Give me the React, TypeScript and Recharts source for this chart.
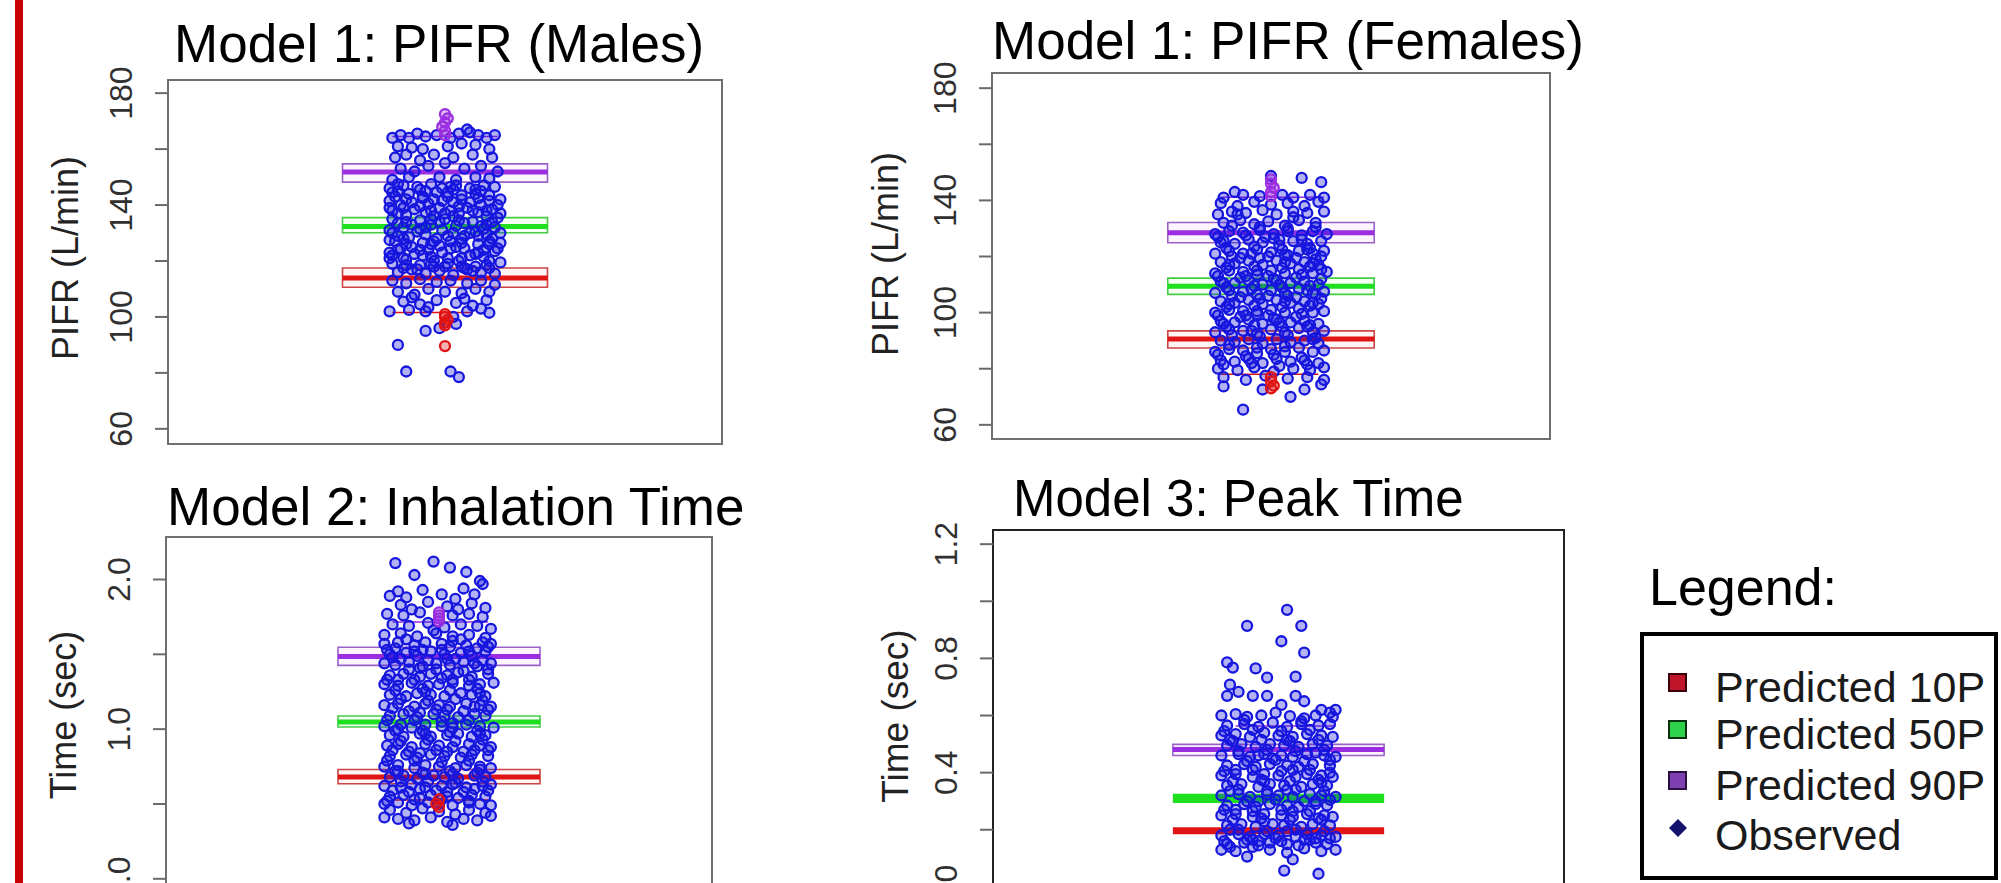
import React from "react";
import { ScatterChart, Scatter, XAxis, YAxis, ReferenceArea, ReferenceLine } from "recharts";

const FONT = '"Liberation Sans", Arial, Helvetica, sans-serif';

// x values are jitter offsets (-100..100 spans the plot box), y values are in axis units

// ---- Model 1: PIFR (Males) ----
const malesTicks = [60, 80, 100, 120, 140, 160, 180];
const malesTickLabels = [60, 100, 140, 180];
const malesP10 = [110.6, 113.9, 117.5];
const malesP50 = [130.1, 132.3, 135.5];
const malesP90 = [148.2, 151.8, 154.7];
const malesGuide10 = [101.6, -19, 10];
const malesGuide90 = [164.5, -19, 19];
const malesPts10: [number, number][] = [[0, 101], [0, 100], [1, 99], [0, 98], [0, 97], [0, 89.6]];
const malesPts90: [number, number][] = [[0, 165], [0, 166.5], [-1, 168], [0, 169.5], [1, 171], [0, 172.5]];
const malesObserved: [number, number][] = [
  [-19, 164], [-16, 165], [-13, 164], [-10, 165.5], [-7, 164.5], [-3, 165], [2, 164], [5, 165.5], [9, 166], [12, 165], [15, 164], [18, 165],
  [-17, 161], [-8, 160], [6, 162], [11, 161.5], [16, 160], [1, 161], [-12, 160.5], [8, 167],
  [-18, 157], [-14, 158], [-9, 156], [-4, 158], [3, 157], [10, 158], [17, 157], [-16, 153], [-11, 152], [-6, 154], [0, 155], [7, 153],
  [13, 154], [19, 152], [-19, 149], [-13, 150], [-2, 150], [4, 149], [11, 150], [16, 149.5],
  [-20, 146], [-15, 147], [-10, 146.5], [-5, 147.5], [-1, 146], [4, 147], [9, 146], [14, 147], [18, 146.5],
  [-18, 143], [-13, 144], [-8, 142.5], [-3, 144.5], [1, 143], [6, 142], [11, 144], [16, 143.5], [20, 142],
  [-20, 139], [-16, 140], [-11, 138.5], [-6, 140.5], [-2, 139], [3, 141], [8, 139], [13, 140], [17, 138.5],
  [-19, 135], [-14, 136.5], [-9, 134.5], [-4, 136], [0, 135], [5, 137], [10, 134], [15, 136], [19, 135.5],
  [-20, 131], [-15, 132], [-10, 130.5], [-5, 133], [-1, 131], [4, 132.5], [9, 130], [14, 131.5], [18, 132],
  [-18, 127], [-13, 128.5], [-8, 126.5], [-3, 128], [2, 127], [7, 129], [12, 126], [17, 128], [20, 126.5],
  [-20, 123], [-16, 124.5], [-11, 122.5], [-6, 124], [-1, 123], [4, 125], [9, 122], [14, 124], [18, 123.5],
  [-19, 119], [-14, 120.5], [-9, 118.5], [-4, 120], [1, 119], [6, 121], [11, 118], [16, 120], [20, 119.5],
  [-17, 116], [-12, 117], [-7, 115.5], [-2, 116.5], [3, 115], [8, 117], [13, 116], [18, 115.5],
  [-17, 145], [-7, 145], [3, 145.5], [13, 145], [-12, 141], [-1, 141.5], [9, 141], [19, 140], [-17, 137], [-7, 137.5], [2, 138],
  [12, 137.5], [-12, 133], [-2, 134], [7, 133.5], [17, 134], [-17, 129], [-7, 129.5], [3, 130], [12, 129], [-12, 125], [-2, 125.5],
  [7, 124.5], [16, 126], [-15, 121], [-5, 121.5], [5, 120], [14, 121.5], [-10, 117], [0, 118], [10, 116.5],
  [-19, 144.5], [-9, 145.5], [1, 144.5], [11, 145.5], [-14, 142], [-4, 142], [6, 143.5], [16, 141.5], [-19, 138], [-9, 139.5], [0, 137],
  [10, 138], [-14, 134], [-5, 135], [5, 134.5], [15, 133], [-19, 130], [-9, 131.5], [1, 129], [11, 130.5], [-14, 126], [-4, 127],
  [6, 126.5], [16, 127], [-19, 122], [-9, 124], [1, 121], [11, 122.5], [-14, 118.5], [-4, 118], [6, 118], [16, 117.5],
  [-19, 113], [-14, 112], [-9, 113.5], [-3, 112.5], [2, 113], [8, 112], [13, 113], [18, 111.5], [-17, 109], [-11, 108], [-6, 110],
  [0, 109], [6, 108.5], [11, 110], [16, 109], [-15, 105.5], [-9, 104.5], [-3, 106], [4, 105], [10, 104], [15, 106], [-12, 107],
  [7, 106.5], [-6, 103.5], [13, 103],
  [-20, 102], [-13, 102.5], [-7, 102], [8, 102], [16, 101.5], [3, 100],
  [-17, 90], [-7, 95], [-14, 80.5], [2, 80.5], [5, 78.5], [4, 97.5], [-2, 96],
];
const malesObservedCore: [number, number][] = [
  [-17, 147.5], [-8, 143], [2, 146.5], [12, 142.5], [-15, 139], [-5, 138], [5, 139.5], [15, 138], [-17, 133.5], [-7, 132], [3, 136],
  [13, 132.5], [-15, 128], [-5, 126], [6, 128], [15, 129.5], [-17, 124], [-8, 122], [2, 124.5], [12, 123], [-15, 117.5], [-5, 119],
  [7, 117.5], [15, 118.5], [-20, 141.5], [20, 137], [-20, 127.5], [20, 130], [-20, 121], [19, 124.5],
];

// ---- Model 1: PIFR (Females) ----
const femalesTicks = [60, 80, 100, 120, 140, 160, 180];
const femalesTickLabels = [60, 100, 140, 180];
const femalesP10 = [87.4, 90.6, 93.5];
const femalesP50 = [106.5, 109.4, 112.3];
const femalesP90 = [124.9, 128.5, 132.1];
const femalesGuide10 = [78, -18, 17];
const femalesGuide90 = [141.1, -18, 19];
const femalesPts10: [number, number][] = [[0, 77], [0, 75.5], [1, 74], [0, 73]];
const femalesPts90: [number, number][] = [[0, 141.5], [0, 143], [1, 144.5], [0, 146], [0, 147.5]];
const femalesObserved: [number, number][] = [
  [0, 148.7], [11, 148], [18, 146.5], [-13, 143],
  [-17, 141], [-10, 142], [-4, 141.5], [4, 142], [8, 141], [14, 142], [19, 141],
  [-18, 139], [-12, 138], [-6, 139.5], [0, 138.5], [6, 139], [12, 138], [17, 139.5],
  [-19, 135], [-14, 136], [-9, 135.5], [-3, 136.5], [2, 135], [8, 136], [13, 135.5], [19, 136],
  [-17, 132], [-11, 133], [-6, 131.5], [-1, 132.5], [5, 131], [10, 133], [16, 132],
  [-20, 128], [-15, 129], [-10, 128.5], [-4, 129.5], [1, 128], [6, 129], [11, 127.5], [15, 129], [20, 128],
  [-18, 125], [-13, 124.5], [-8, 126], [-3, 125], [3, 124], [8, 125.5], [13, 124.5], [18, 125.5],
  [-20, 121], [-15, 122], [-10, 121], [-5, 122.5], [0, 121.5], [5, 120.5], [10, 122], [15, 121], [19, 122],
  [-18, 118], [-13, 117.5], [-8, 118.5], [-3, 117], [2, 118.5], [7, 117.5], [12, 118], [17, 117],
  [-20, 114], [-15, 115], [-10, 114.5], [-5, 113.5], [0, 115], [5, 114], [10, 115.5], [15, 114], [20, 114.5],
  [-18, 111], [-13, 110.5], [-8, 111.5], [-3, 110], [2, 111.5], [7, 110.5], [12, 111], [17, 110],
  [-20, 107], [-15, 108], [-10, 107.5], [-5, 106.5], [0, 108], [5, 107], [10, 108.5], [15, 107], [19, 107.5],
  [-18, 104], [-13, 103.5], [-8, 104.5], [-3, 103], [2, 104.5], [7, 103.5], [12, 104], [17, 103],
  [-20, 100], [-15, 101], [-10, 100.5], [-5, 99.5], [0, 101], [5, 100], [10, 101.5], [15, 100], [19, 100.5],
  [-18, 97], [-13, 96.5], [-8, 97.5], [-3, 96], [2, 97.5], [7, 96.5], [12, 97], [17, 96],
  [-20, 93], [-15, 94], [-10, 93.5], [-5, 92.5], [0, 94], [5, 93], [10, 94.5], [15, 93], [19, 93.5],
  [-18, 90], [-13, 89.5], [-8, 90.5], [-3, 89], [2, 90.5], [7, 89.5], [12, 90], [17, 89],
  [-20, 86], [-15, 87], [-10, 86.5], [-5, 85.5], [0, 87], [5, 86], [10, 87.5], [15, 86], [19, 86.5],
  [-18, 83], [-13, 82.5], [-8, 83.5], [-3, 82], [2, 83.5], [7, 82.5], [12, 83], [17, 82],
  [-19, 80], [-12, 79.5], [-6, 80.5], [1, 79], [8, 80], [14, 79.5], [19, 80.5],
  [-17, 77], [-9, 76], [-2, 77.5], [6, 76.5], [13, 77], [19, 76],
  [-16, 123], [-6, 123.5], [4, 122.5], [14, 123], [-11, 119.5], [-1, 120], [9, 119.5], [18, 120], [-16, 116], [-6, 116.5], [4, 116],
  [14, 116.5], [-11, 112.5], [-1, 113], [9, 112.5], [18, 112], [-16, 109], [-6, 109.5], [4, 109], [14, 109.5], [-11, 105.5], [-1, 106],
  [9, 105.5], [18, 105], [-16, 102], [-6, 102.5], [4, 102], [14, 102.5], [-11, 98.5], [-1, 99], [9, 98.5], [-16, 95], [-6, 95.5],
  [4, 95], [14, 95.5],
  [-19, 127], [-9, 127.5], [1, 126.5], [11, 126], [-14, 120], [-4, 119.5], [6, 120.5], [16, 119], [-19, 113], [-9, 113], [1, 112],
  [11, 113.5], [-14, 106], [-4, 105], [6, 106], [16, 106.5], [-19, 99], [-9, 99], [1, 98], [11, 99.5], [-14, 92], [-4, 91.5],
  [6, 92], [16, 91], [-19, 85], [-9, 84.5], [1, 85], [11, 84], [-14, 131], [-4, 130.5], [6, 130], [16, 130.5],
  [-17, 73.7], [-3, 72.6], [7, 70], [12, 72.6], [18, 74.4], [-10, 65.4],
];
const femalesObservedCore: [number, number][] = [
  [-17, 125.5], [-7, 121], [3, 126], [13, 122.5], [-15, 117], [-5, 115], [5, 118], [15, 117.5], [-17, 110.5], [-7, 108.5], [3, 110],
  [13, 108], [-15, 103], [-5, 100.5], [5, 104], [15, 103.5], [-17, 96], [-7, 93.5], [3, 96.5], [13, 95], [-15, 88.5], [-5, 87.5],
  [5, 88], [15, 90.5], [-17, 81.5], [-7, 82], [3, 81], [13, 81.5], [-12, 135], [8, 134], [-2, 127], [18, 115.5],
];

// ---- Model 2: Inhalation Time ----
const inhalTicks = [0, 0.5, 1, 1.5, 2];
const inhalTickLabels = [0, 1, 2];
const inhalP10 = [0.635, 0.68, 0.73];
const inhalP50 = [1.014, 1.047, 1.088];
const inhalP90 = [1.426, 1.486, 1.547];
const inhalGuide10 = [0.527, -17, 18];
const inhalGuide90 = [1.716, -17, 18];
const inhalPts10: [number, number][] = [[0, 0.53], [-1, 0.5], [0, 0.48]];
const inhalPts90: [number, number][] = [[0, 1.72], [0, 1.74], [0, 1.76], [0, 1.78]];
const inhalObserved: [number, number][] = [
  [-16, 2.11], [-2, 2.12], [4, 2.08], [10, 2.05], [-9, 2.03], [15, 1.99], [16, 1.97], [9, 1.94], [-15, 1.92], [-6, 1.93], [-12, 1.88],
  [-18, 1.89], [1, 1.9], [6, 1.87], [13, 1.9], [-4, 1.85], [12, 1.84], [-14, 1.83], [3, 1.82], [-10, 1.8], [7, 1.8], [17, 1.81],
  [-19, 1.77], [-13, 1.76], [-7, 1.78], [5, 1.76], [11, 1.77], [16, 1.75], [-17, 1.7], [-11, 1.69], [-4, 1.71], [2, 1.68], [8, 1.7],
  [14, 1.69], [19, 1.67], [-20, 1.63], [-14, 1.64], [-8, 1.62], [-1, 1.64], [5, 1.62], [11, 1.63], [17, 1.61],
  [-20, 1.57], [-15, 1.58], [-9, 1.56], [-5, 1.58], [1, 1.57], [5, 1.59], [10, 1.56], [16, 1.58], [19, 1.57],
  [-18, 1.5], [-12, 1.51], [-8, 1.49], [-3, 1.52], [2, 1.5], [8, 1.51], [12, 1.49], [17, 1.52],
  [-20, 1.44], [-16, 1.43], [-11, 1.45], [-6, 1.42], [-1, 1.44], [4, 1.43], [9, 1.45], [14, 1.42], [19, 1.44],
  [-18, 1.36], [-13, 1.37], [-7, 1.35], [-3, 1.37], [3, 1.36], [7, 1.38], [12, 1.35], [18, 1.37],
  [-20, 1.3], [-15, 1.29], [-10, 1.31], [-4, 1.29], [0, 1.3], [5, 1.31], [11, 1.29], [15, 1.3], [20, 1.31],
  [-18, 1.23], [-12, 1.22], [-8, 1.24], [-3, 1.23], [2, 1.22], [8, 1.24], [12, 1.23], [17, 1.22],
  [-20, 1.16], [-15, 1.17], [-9, 1.15], [-5, 1.17], [0, 1.16], [4, 1.15], [10, 1.17], [15, 1.16], [19, 1.15],
  [-18, 1.09], [-13, 1.1], [-8, 1.08], [-2, 1.1], [2, 1.09], [7, 1.08], [13, 1.1], [17, 1.09],
  [-20, 1.02], [-14, 1.03], [-10, 1.01], [-5, 1.03], [1, 1.02], [5, 1.01], [10, 1.03], [15, 1.02], [20, 1.01],
  [-18, 0.96], [-13, 0.95], [-7, 0.97], [-3, 0.95], [3, 0.96], [7, 0.97], [12, 0.95], [17, 0.96],
  [-19, 0.89], [-15, 0.9], [-10, 0.88], [-5, 0.9], [0, 0.89], [5, 0.88], [11, 0.9], [15, 0.89], [19, 0.88],
  [-18, 0.82], [-12, 0.83], [-8, 0.81], [-3, 0.83], [2, 0.82], [8, 0.81], [12, 0.83], [18, 0.82],
  [-20, 0.75], [-15, 0.76], [-9, 0.74], [-5, 0.76], [0, 0.75], [6, 0.74], [10, 0.76], [15, 0.75], [19, 0.74],
  [-18, 0.68], [-13, 0.69], [-8, 0.67], [-2, 0.69], [2, 0.68], [7, 0.67], [13, 0.69], [17, 0.68],
  [-20, 0.62], [-14, 0.61], [-10, 0.63], [-5, 0.61], [1, 0.62], [5, 0.63], [10, 0.61], [16, 0.62], [19, 0.63],
  [-18, 0.55], [-13, 0.56], [-7, 0.54], [-3, 0.56], [3, 0.55], [7, 0.54], [12, 0.56], [17, 0.55],
  [-20, 0.5], [-15, 0.51], [-10, 0.49], [-4, 0.51], [0, 0.5], [5, 0.49], [11, 0.51], [15, 0.5], [19, 0.49],
  [-16, 1.54], [-6, 1.53], [4, 1.55], [14, 1.54], [-11, 1.4], [-1, 1.4], [9, 1.39], [18, 1.4], [-16, 1.26], [-6, 1.27], [4, 1.26],
  [14, 1.27], [-11, 1.12], [-1, 1.13], [9, 1.12], [18, 1.13], [-16, 0.99], [-6, 0.99], [4, 0.98], [14, 0.99], [-11, 0.85], [-1, 0.86],
  [9, 0.85], [18, 0.86], [-16, 0.72], [-6, 0.71], [4, 0.72], [14, 0.71], [-11, 0.58], [-1, 0.59], [9, 0.58], [18, 0.59],
  [-19, 1.53], [-9, 1.52], [1, 1.53], [11, 1.52], [-14, 1.47], [-4, 1.46], [6, 1.47], [16, 1.46], [-19, 1.33], [-9, 1.33], [1, 1.34],
  [11, 1.33], [-14, 1.2], [-4, 1.19], [6, 1.2], [16, 1.19], [-19, 1.06], [-9, 1.06], [1, 1.05], [11, 1.06], [-14, 0.92], [-4, 0.93],
  [6, 0.92], [16, 0.93], [-19, 0.79], [-9, 0.79], [1, 0.78], [11, 0.79], [-14, 0.65], [-4, 0.65], [6, 0.64], [16, 0.65], [-19, 0.52],
  [-9, 0.53], [1, 0.53], [11, 0.52],
  [-18, 0.46], [-12, 0.44], [-6, 0.47], [0, 0.45], [6, 0.43], [11, 0.46], [17, 0.44], [-20, 0.41], [-15, 0.4], [-9, 0.39], [-3, 0.41],
  [3, 0.38], [9, 0.4], [14, 0.39], [19, 0.42], [-11, 0.37], [5, 0.36],
];
const inhalObservedCore: [number, number][] = [
  [-17, 1.48], [-7, 1.41], [3, 1.47], [13, 1.44], [-15, 1.33], [-5, 1.25], [5, 1.33], [15, 1.24], [-17, 1.14], [-7, 1.11], [3, 1.13],
  [13, 1.15], [-15, 1.0], [-5, 0.97], [5, 1.04], [15, 0.97], [-17, 0.86], [-7, 0.84], [3, 0.85], [13, 0.86], [-15, 0.72], [-5, 0.7],
  [5, 0.7], [15, 0.73], [-17, 0.59], [-7, 0.6], [3, 0.58], [13, 0.6], [-12, 1.6], [8, 1.6], [-2, 1.66], [18, 1.55],
];

// ---- Model 3: Peak Time ----
const peakTicks = [0, 0.2, 0.4, 0.6, 0.8, 1, 1.2];
const peakTickLabels = [0, 0.4, 0.8, 1.2];
const peakP10 = [0.184, 0.197, 0.209];
const peakP50 = [0.294, 0.311, 0.326];
const peakP90 = [0.46, 0.481, 0.499];
const peakGuide90 = [0.563, -15, 20];
const peakObserved: [number, number][] = [
  [3, 0.97], [-11, 0.914], [8, 0.914], [1, 0.86], [9, 0.82], [-18, 0.786], [-16, 0.768], [-8, 0.765], [-4, 0.733], [6, 0.736],
  [-17, 0.708], [-14, 0.683], [-9, 0.669], [-4, 0.669], [6, 0.669], [-18, 0.669], [1, 0.637], [9, 0.65], [15, 0.62], [20, 0.62], [18, 0.61],
  [-20, 0.6], [-15, 0.605], [-11, 0.595], [-6, 0.6], [-1, 0.61], [4, 0.598], [9, 0.59], [13, 0.6], [19, 0.595],
  [-18, 0.565], [-12, 0.57], [-7, 0.56], [-2, 0.575], [3, 0.56], [8, 0.57], [14, 0.565], [18, 0.57],
  [-20, 0.53], [-15, 0.535], [-10, 0.525], [-5, 0.54], [0, 0.53], [5, 0.525], [10, 0.535], [15, 0.53], [19, 0.525],
  [-18, 0.495], [-13, 0.5], [-8, 0.49], [-3, 0.5], [2, 0.495], [7, 0.49], [12, 0.5], [17, 0.495],
  [-20, 0.46], [-14, 0.465], [-10, 0.455], [-5, 0.465], [1, 0.46], [5, 0.455], [10, 0.465], [16, 0.46], [20, 0.455],
  [-18, 0.425], [-12, 0.43], [-8, 0.42], [-3, 0.43], [3, 0.425], [7, 0.42], [12, 0.43], [18, 0.425],
  [-20, 0.39], [-15, 0.395], [-9, 0.385], [-5, 0.395], [0, 0.39], [6, 0.385], [10, 0.395], [15, 0.39], [19, 0.385],
  [-18, 0.355], [-13, 0.36], [-7, 0.35], [-3, 0.36], [2, 0.355], [8, 0.35], [12, 0.36], [17, 0.355],
  [-20, 0.32], [-14, 0.325], [-10, 0.315], [-4, 0.325], [0, 0.32], [5, 0.315], [11, 0.325], [15, 0.32], [20, 0.315],
  [-18, 0.285], [-12, 0.29], [-8, 0.28], [-3, 0.29], [3, 0.285], [7, 0.28], [13, 0.29], [17, 0.285],
  [-20, 0.25], [-15, 0.255], [-9, 0.245], [-5, 0.255], [1, 0.25], [5, 0.245], [10, 0.255], [16, 0.25], [19, 0.245],
  [-18, 0.215], [-13, 0.22], [-8, 0.21], [-2, 0.22], [2, 0.215], [8, 0.21], [12, 0.22], [18, 0.215],
  [-20, 0.18], [-14, 0.185], [-10, 0.175], [-5, 0.185], [0, 0.18], [6, 0.175], [10, 0.185], [15, 0.18], [20, 0.175],
  [-18, 0.15], [-12, 0.155], [-7, 0.145], [-3, 0.155], [3, 0.15], [7, 0.145], [13, 0.155], [17, 0.15],
  [-16, 0.51], [-6, 0.515], [4, 0.51], [14, 0.515], [-11, 0.44], [-1, 0.445], [9, 0.44], [18, 0.445], [-16, 0.37], [-6, 0.375],
  [4, 0.37], [14, 0.375], [-11, 0.3], [-1, 0.305], [9, 0.3], [18, 0.305], [-16, 0.235], [-6, 0.24], [4, 0.235], [14, 0.24],
  [-11, 0.165], [-1, 0.17], [9, 0.165], [18, 0.17],
  [-19, 0.545], [-9, 0.55], [1, 0.545], [11, 0.55], [-14, 0.475], [-4, 0.48], [6, 0.475], [16, 0.48], [-19, 0.405], [-9, 0.41],
  [1, 0.405], [11, 0.41], [-14, 0.34], [-4, 0.335], [6, 0.34], [16, 0.335], [-19, 0.27], [-9, 0.265], [1, 0.27], [11, 0.265],
  [-14, 0.2], [-4, 0.195], [6, 0.2], [16, 0.195], [-19, 0.16], [-9, 0.165], [1, 0.16], [11, 0.165],
  [-20, 0.13], [-15, 0.125], [-9, 0.14], [-3, 0.13], [3, 0.12], [9, 0.135], [15, 0.125], [20, 0.13], [-11, 0.106], [5, 0.096],
  [2, 0.057], [14, 0.046], [-17, 0.14],
];
const peakObservedCore: [number, number][] = [
  [-17, 0.515], [-7, 0.46], [3, 0.515], [13, 0.47], [-15, 0.41], [-5, 0.37], [5, 0.41], [15, 0.365], [-17, 0.335], [-7, 0.3],
  [3, 0.34], [13, 0.3], [-15, 0.27], [-5, 0.23], [5, 0.265], [15, 0.235], [-17, 0.2], [-7, 0.16], [3, 0.195], [13, 0.17],
  [-12, 0.585], [8, 0.58], [-2, 0.45], [18, 0.4],
];

const BLUE = "#1616de";
const PURPLE = "#9a2ee0";
const GREEN = "#1ee01e";
const RED = "#e01414";

const toPts = (arr: [number, number][]) => arr.map(([x, y]) => ({ x, y }));

// open rings with a faint tint, so dense clusters read as solid blue like the original
const ring = (color: string) => (p: any) => (
  <circle cx={p.cx} cy={p.cy} r={5} fill={color} fillOpacity={0.33} stroke={color} strokeWidth={2.3} />
);

const makeTick = (labels: number[], decimals: number) => (props: any) => {
  const { x, y, payload } = props;
  if (!labels.includes(payload.value)) return <g />;
  return (
    <text
      x={x}
      y={y}
      transform={`rotate(-90 ${x} ${y})`}
      textAnchor="middle"
      dominantBaseline="central"
      fontSize={32}
      fill="#303030"
      fontFamily={FONT}
    >
      {payload.value.toFixed(decimals)}
    </text>
  );
};

interface PanelProps {
  left: number;
  top: number;
  width: number;
  height: number;
  axisWidth: number;
  domain: [number, number];
  ticks: number[];
  tickLabels: number[];
  decimals: number;
  observed: [number, number][];
  p10: number[];
  p50: number[];
  p90: number[];
  guide10?: number[];
  guide90?: number[];
  pts10?: [number, number][];
  pts90?: [number, number][];
  solidLow?: boolean;
  boxStroke: string;
}

function band(key: string, vals: number[], color: string, edge: string, tint: string, solid: boolean) {
  if (solid) {
    return [
      <ReferenceArea key={key} x1={-37} x2={37} y1={vals[0]} y2={vals[2]} fill={color} fillOpacity={1} stroke="none" zIndex={100} />,
    ];
  }
  return [
    <ReferenceArea key={key + "a"} x1={-37} x2={37} y1={vals[0]} y2={vals[2]} fill={tint} fillOpacity={1} stroke={edge} strokeWidth={1.6} zIndex={100} />,
    <ReferenceLine key={key + "l"} segment={[{ x: -37, y: vals[1] }, { x: 37, y: vals[1] }]} stroke={color} strokeWidth={5} zIndex={110} />,
  ];
}

function guide(key: string, g: number[] | undefined, color: string) {
  if (!g) return null;
  return <ReferenceLine key={key} segment={[{ x: g[1], y: g[0] }, { x: g[2], y: g[0] }]} stroke={color} strokeWidth={1.5} zIndex={110} />;
}

// top/bottom margin leaves room for the rotated end tick labels
const PAD = 30;

function Panel(p: PanelProps) {
  return (
    <div style={{ position: "absolute", left: p.left, top: p.top - PAD }}>
      <ScatterChart width={p.width} height={p.height + 2 * PAD} margin={{ top: PAD, right: 2, bottom: PAD, left: 0 }}>
        <XAxis type="number" dataKey="x" domain={[-100, 100]} hide />
        <YAxis
          type="number"
          dataKey="y"
          domain={p.domain}
          ticks={p.ticks}
          interval={0}
          allowDataOverflow
          width={p.axisWidth}
          axisLine={false}
          tickLine={{ stroke: "#6a6a6a", strokeWidth: 2 }}
          tickSize={13}
          tickMargin={34}
          tick={makeTick(p.tickLabels, p.decimals)}
        />
        <ReferenceArea
          x1={-100}
          x2={100}
          y1={p.domain[0]}
          y2={p.domain[1]}
          fill="#ffffff"
          fillOpacity={0}
          stroke={p.boxStroke}
          strokeWidth={2}
          ifOverflow="visible"
          zIndex={90}
        />
        {band("p90", p.p90, PURPLE, "#9a62c8", "#fcf4ff", false)}
        {band("p50", p.p50, GREEN, "#44cc44", "#f2fff2", !!p.solidLow)}
        {band("p10", p.p10, RED, "#cc4444", "#fff4f4", !!p.solidLow)}
        {guide("g90", p.guide90, PURPLE)}
        {guide("g10", p.guide10, RED)}
        <Scatter data={toPts(p.observed)} shape={ring(BLUE)} isAnimationActive={false} zIndex={600} />
        <Scatter data={toPts(p.pts90 || [])} shape={ring(PURPLE)} isAnimationActive={false} zIndex={610} />
        <Scatter data={toPts(p.pts10 || [])} shape={ring(RED)} isAnimationActive={false} zIndex={610} />
      </ScatterChart>
    </div>
  );
}

const titleStyle = { fontFamily: FONT, fill: "#000" };

export default function App() {
  return (
    <div
      style={{
        position: "absolute",
        left: 0,
        top: 0,
        width: 2001,
        height: 883,
        overflow: "hidden",
        background: "#ffffff",
      }}
    >
      <div style={{ position: "absolute", left: 15, top: 0, width: 8, height: 883, background: "#c40000" }} />

      <Panel
        left={30}
        top={80}
        width={694}
        height={364}
        axisWidth={138}
        domain={[54.58, 184.7]}
        ticks={malesTicks}
        tickLabels={malesTickLabels}
        decimals={0}
        observed={[...malesObserved, ...malesObservedCore]}
        p10={malesP10}
        p50={malesP50}
        p90={malesP90}
        guide10={malesGuide10}
        guide90={malesGuide90}
        pts10={malesPts10}
        pts90={malesPts90}
        boxStroke="#707070"
      />
      <Panel
        left={860}
        top={73}
        width={692}
        height={366}
        axisWidth={132}
        domain={[54.95, 185.41]}
        ticks={femalesTicks}
        tickLabels={femalesTickLabels}
        decimals={0}
        observed={[...femalesObserved, ...femalesObservedCore]}
        p10={femalesP10}
        p50={femalesP50}
        p90={femalesP90}
        guide10={femalesGuide10}
        guide90={femalesGuide90}
        pts10={femalesPts10}
        pts90={femalesPts90}
        boxStroke="#707070"
      />
      <Panel
        left={30}
        top={537}
        width={684}
        height={362}
        axisWidth={136}
        domain={[-0.135, 2.284]}
        ticks={inhalTicks}
        tickLabels={inhalTickLabels}
        decimals={1}
        observed={[...inhalObserved, ...inhalObservedCore]}
        p10={inhalP10}
        p50={inhalP50}
        p90={inhalP90}
        guide10={inhalGuide10}
        guide90={inhalGuide90}
        pts10={inhalPts10}
        pts90={inhalPts90}
        boxStroke="#707070"
      />
      <Panel
        left={860}
        top={530}
        width={706}
        height={378}
        axisWidth={133}
        domain={[-0.074, 1.2496]}
        ticks={peakTicks}
        tickLabels={peakTickLabels}
        decimals={1}
        observed={[...peakObserved, ...peakObservedCore]}
        p10={peakP10}
        p50={peakP50}
        p90={peakP90}
        guide90={peakGuide90}
        solidLow
        boxStroke="#222222"
      />

      <svg width={2001} height={883} style={{ position: "absolute", left: 0, top: 0, pointerEvents: "none" }}>
        <text x={174} y={62} fontSize={53} {...titleStyle}>Model 1: PIFR (Males)</text>
        <text x={992} y={59} fontSize={53} {...titleStyle}>Model 1: PIFR (Females)</text>
        <text x={167} y={525} fontSize={53} {...titleStyle}>Model 2: Inhalation Time</text>
        <text x={1013} y={516} fontSize={51} {...titleStyle}>Model 3: Peak Time</text>

        <text x={65} y={258} transform="rotate(-90 65 258)" textAnchor="middle" dominantBaseline="central" fontSize={36} fill="#222" fontFamily={FONT}>PIFR (L/min)</text>
        <text x={885} y={254} transform="rotate(-90 885 254)" textAnchor="middle" dominantBaseline="central" fontSize={36} fill="#222" fontFamily={FONT}>PIFR (L/min)</text>
        <text x={63} y={715} transform="rotate(-90 63 715)" textAnchor="middle" dominantBaseline="central" fontSize={36} fill="#222" fontFamily={FONT}>Time (sec)</text>
        <text x={895} y={716} transform="rotate(-90 895 716)" textAnchor="middle" dominantBaseline="central" fontSize={37} fill="#222" fontFamily={FONT}>Time (sec)</text>

        <text x={1649} y={605} fontSize={52} {...titleStyle}>Legend:</text>
        <rect x={1642} y={634} width={354} height={244} fill="#ffffff" stroke="#000" strokeWidth={4} />
        <rect x={1669} y={674} width={17} height={17} fill="#c0142a" stroke="#3a0008" strokeWidth={2} />
        <text x={1715} y={702} fontSize={43} fill="#1a1a1a" fontFamily={FONT}>Predicted 10P</text>
        <rect x={1669} y={721} width={17} height={17} fill="#2ed14a" stroke="#063010" strokeWidth={2} />
        <text x={1715} y={749} fontSize={43} fill="#1a1a1a" fontFamily={FONT}>Predicted 50P</text>
        <rect x={1669} y={772} width={17} height={17} fill="#7e3fb0" stroke="#2a0f40" strokeWidth={2} />
        <text x={1715} y={800} fontSize={43} fill="#1a1a1a" fontFamily={FONT}>Predicted 90P</text>
        <polygon points="1678,819 1687,828 1678,837 1669,828" fill="#13136e" />
        <text x={1715} y={850} fontSize={43} fill="#1a1a1a" fontFamily={FONT}>Observed</text>
      </svg>
    </div>
  );
}
